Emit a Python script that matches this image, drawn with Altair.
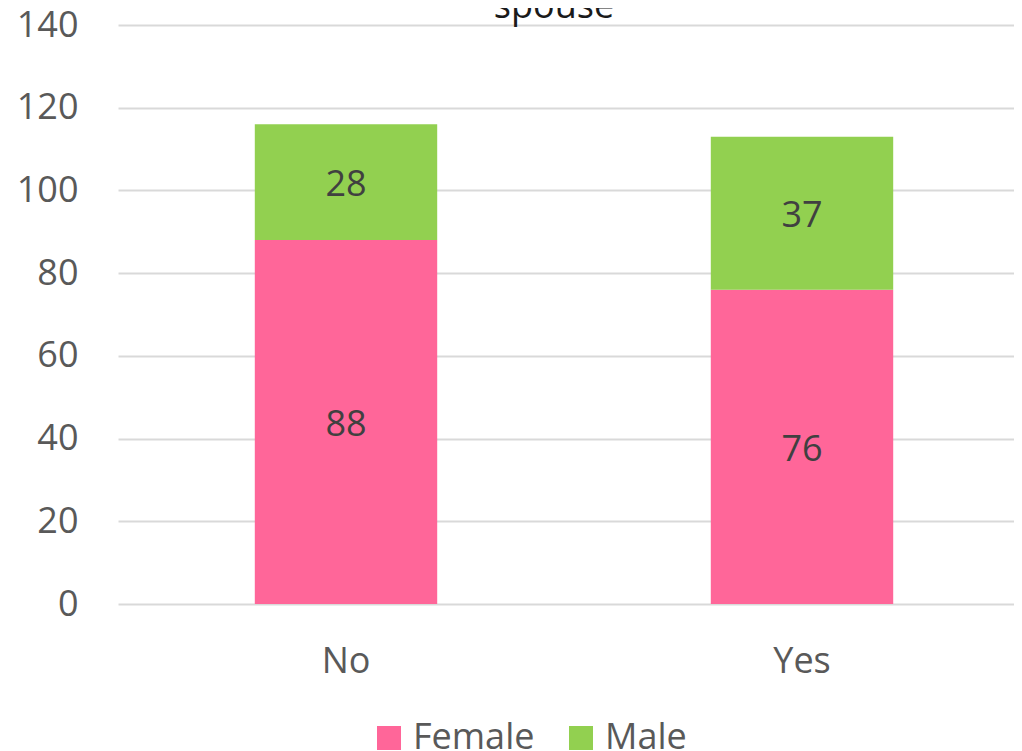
import altair as alt
import pandas as pd

categories = ["No", "Yes"]
female = [88, 76]
male = [28, 37]
series = ["Female", "Male"]
y_ticks = [0, 20, 40, 60, 80, 100, 120, 140]
title_text = "spouse"

rows = []
for i, c in enumerate(categories):
    rows.append({"answer": c, "sex": "Female", "value": female[i], "ord": 0})
    rows.append({"answer": c, "sex": "Male", "value": male[i], "ord": 1})
df = pd.DataFrame(rows)

FONT = "Open Sans"

base = alt.Chart(df).transform_stack(
    stack="value", groupby=["answer"], as_=["y0", "y1"], sort=[alt.SortField("ord")]
).transform_calculate(mid="(datum.y0 + datum.y1) / 2")

x_enc = alt.X(
    "answer:N",
    sort=categories,
    scale=alt.Scale(paddingInner=0.6, paddingOuter=0.3, range=[0, 912]),
    axis=alt.Axis(title=None, labelAngle=0, labelFontSize=36, labelColor="#595959",
                  labelFont=FONT, ticks=False, domain=False, labelPadding=40,
                  labelBaseline="top"),
)

bars = base.mark_bar().encode(
    x=x_enc,
    y=alt.Y("y0:Q", scale=alt.Scale(domain=[0, 140], nice=False),
            axis=alt.Axis(title=None, values=y_ticks, labelFontSize=36, labelColor="#595959",
                          labelFont=FONT, ticks=False, domain=False, labelPadding=40,
                          grid=True, gridColor="#d9d9d9", gridWidth=2)),
    y2="y1:Q",
    color=alt.Color("sex:N", sort=series,
                    scale=alt.Scale(domain=series, range=["#FF6699", "#92D050"]),
                    legend=alt.Legend(title=None, orient="none", legendX=253, legendY=695,
                                      direction="horizontal", symbolType="square",
                                      symbolSize=576, symbolStrokeWidth=0,
                                      labelFontSize=36, labelFont=FONT, labelColor="#595959",
                                      labelOffset=6, columnPadding=28, padding=0)),
)

labels = base.mark_text(fontSize=36, font=FONT, color="#404040", baseline="middle", dy=3).encode(
    x=alt.X("answer:N", sort=categories),
    y=alt.Y("mid:Q"),
    text=alt.Text("value:Q"),
)

title_df = pd.DataFrame({"t": [title_text]})
title = alt.Chart(title_df).mark_text(fontSize=36, font=FONT, color="#1a1a1a",
                                      align="center", baseline="alphabetic").encode(
    x=alt.value(436), y=alt.value(-7), text="t:N"
)

chart = alt.layer(bars, labels, title).properties(
    width=896, height=579,
    autosize=alt.AutoSizeParams(type="none"),
    padding={"left": 110, "top": 17, "right": 0, "bottom": 147},
).configure_view(stroke=None)

chart.save("out.html", embed_options={"renderer": "svg", "actions": False})
